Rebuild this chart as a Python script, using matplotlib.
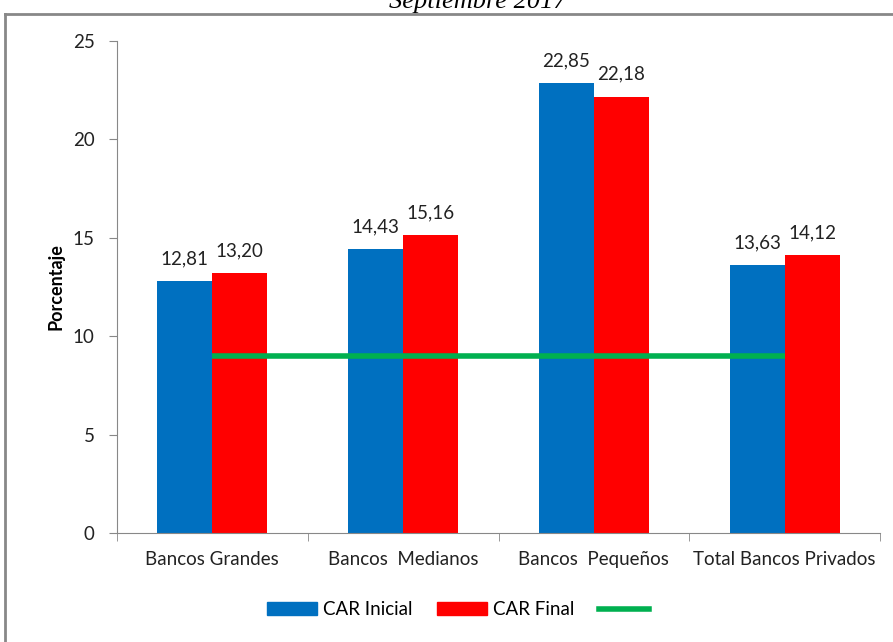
import numpy as np
import matplotlib
matplotlib.use('Agg')
import matplotlib.pyplot as plt
from matplotlib.lines import Line2D
from matplotlib.patches import Patch

# datos
categorias = ['Bancos Grandes', 'Bancos  Medianos', 'Bancos  Pequeños', 'Total Bancos Privados']
car_inicial = [12.81, 14.43, 22.85, 13.63]
car_final = [13.20, 15.16, 22.18, 14.12]
minimo = [9, 9, 9, 9]

plt.rcParams['font.family'] = ['Lato', 'DejaVu Sans']

fig = plt.figure(figsize=(8.93, 6.42), dpi=100)
ax = fig.add_axes([0.131, 0.170, 0.8545, 0.766])

x = np.arange(len(categorias))
w = 0.288
b1 = ax.bar(x - w / 2, car_inicial, w, color='#0070C0')
b2 = ax.bar(x + w / 2, car_final, w, color='#FF0000')
ax.plot(x, minimo, color='#00B050', lw=4, solid_capstyle='butt')

for bars, vals in ((b1, car_inicial), (b2, car_final)):
    for r, v in zip(bars, vals):
        ax.text(r.get_x() + r.get_width() / 2, v + 0.7, f'{v:.2f}'.replace('.', ','),
                ha='center', va='bottom', fontsize=13.5, color='#222222')

ax.set_xlim(-0.5, 3.5)
ax.set_ylim(0, 25)
ax.set_yticks([0, 5, 10, 15, 20, 25])
ax.set_xticks(x)
ax.set_xticklabels(categorias, fontsize=13.5, color='#222222')
ax.set_xticks(np.arange(-0.5, 4, 1), minor=True)
ax.tick_params(axis='x', which='major', length=0, pad=13)
ax.tick_params(axis='x', which='minor', length=6, color='#888888')
ax.tick_params(axis='y', length=6, color='#888888', labelsize=13.5, labelcolor='#222222', pad=10)
for s in ('top', 'right'):
    ax.spines[s].set_visible(False)
for s in ('left', 'bottom'):
    ax.spines[s].set_color('#888888')
ax.set_ylabel('Porcentaje', fontsize=13, fontweight='bold', labelpad=6)

handles = [Patch(color='#0070C0', label='CAR Inicial'),
           Patch(color='#FF0000', label='CAR Final'),
           Line2D([], [], color='#00B050', lw=4, label='')]
fig.legend(handles=handles, loc='center', bbox_to_anchor=(0.516, 0.05), ncol=3,
           frameon=False, fontsize=13.5, handlelength=2.7, handleheight=0.7,
           columnspacing=1.3, handletextpad=0.3)

# borde del grafico
fig.add_artist(Line2D([5 / 893, 5 / 893], [0, 1 - 14 / 642], color='#888888', lw=2))
fig.add_artist(Line2D([5 / 893, 1], [1 - 14 / 642, 1 - 14 / 642], color='#888888', lw=2))

fig.text(0.535, 1 - 8 / 642, 'Septiembre 2017', ha='center', va='baseline',
         fontsize=19, style='italic', family='Liberation Serif')

fig.savefig('out.png', dpi=100)
